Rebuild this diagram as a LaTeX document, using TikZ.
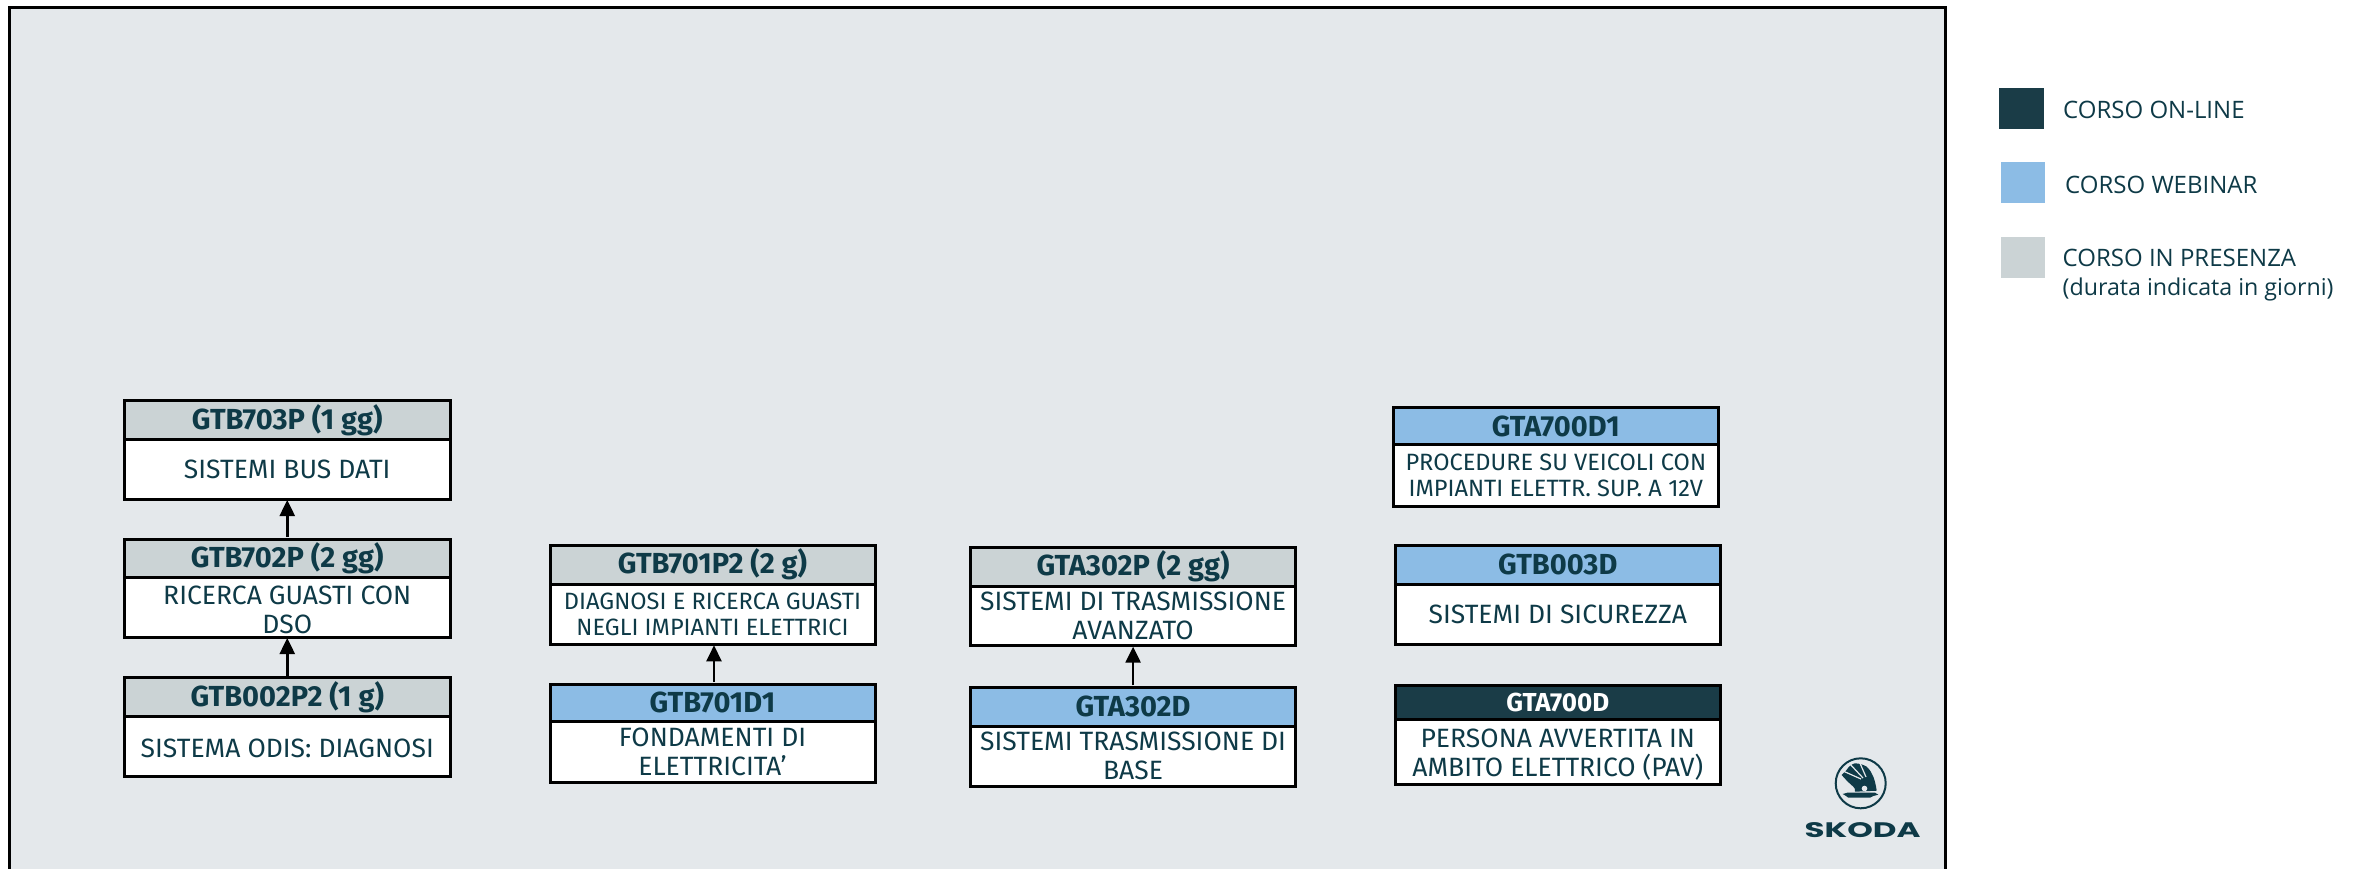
\documentclass[tikz,border=0pt]{standalone}
\usepackage{fontspec}
\usetikzlibrary{arrows.meta}
\setmainfont{Fira Sans}
\newfontfamily\boxfont{Fira Sans}
\newfontfamily\legfont{Open Sans}
\newfontfamily\logofont[FakeStretch=1.55]{Poppins}
\definecolor{panelc}{HTML}{E4E8EB}
\definecolor{grayc}{HTML}{CBD3D5}
\definecolor{bluec}{HTML}{8CBCE5}
\definecolor{darkc}{HTML}{1A3C47}
\definecolor{textc}{HTML}{0E3A47}
\newcommand{\lowerstrut}{\rule{0pt}{24pt}}
\tikzset{
  boxpart/.style={draw=black,line width=3pt,inner sep=0pt,outer sep=0pt,align=center,text=textc},
  titlept/.style={boxpart,font=\boxfont\fontsize{29}{30}\selectfont\bfseries},
  bodypt/.style={boxpart,fill=white,font=\boxfont\fontsize{26.5}{29}\selectfont},
  smallbody/.style={boxpart,fill=white,font=\boxfont\fontsize{23.6}{25.7}\selectfont},
  flowarrow/.style={draw=black,line width=2.5pt,-{Triangle[length=16pt,width=15pt]},shorten >=1pt,shorten <=2pt},
  legswatch/.style={inner sep=0pt,outer sep=0pt},
  legtext/.style={anchor=base west,inner sep=0pt,text=textc,align=left,font=\legfont\fontsize{24}{29}\selectfont}
}
% #1 name #2 left #3 right #4 top #5 divider #6 bottom #7 fill #8 title #9 body style+text
\newcommand{\coursebox}[9]{%
  \node[titlept,fill=#7,minimum width=#3pt-#2pt,minimum height=#5pt-#4pt,anchor=north west] (#1t) at (#2,#4) {#8};
  \node[bodypt,minimum width=#3pt-#2pt,minimum height=#6pt-#5pt,anchor=north west,#9;
}
\begin{document}
\begin{tikzpicture}[x=1pt,y=-1pt]
\useasboundingbox (0,0) rectangle (2361,869);
\fill[white] (0,0) rectangle (2361,869);
\draw[draw=black,fill=panelc,line width=3pt] (9.7,7.2) rectangle (1945,880);

\coursebox{a3}{124.5}{450}{400.7}{439.5}{499}{grayc}{GTB703P (1 gg)}{] (a3b) at (124.5,439.5) {SISTEMI BUS DATI}}
\coursebox{a2}{124.5}{450}{539}{577}{637}{grayc}{GTB702P (2 gg)}{] (a2b) at (124.5,577) {\lowerstrut RICERCA GUASTI CON\\DSO}}
\coursebox{a1}{124.5}{450}{677.7}{716}{776}{grayc}{GTB002P2 (1 g)}{] (a1b) at (124.5,716) {\lowerstrut SISTEMA ODIS: DIAGNOSI}}

\coursebox{b2}{550}{875}{545.3}{584}{644.3}{grayc}{GTB701P2 (2 g)}{,smallbody] (b2b) at (550,584) {DIAGNOSI E RICERCA GUASTI\\NEGLI IMPIANTI ELETTRICI}}
\coursebox{b1}{550}{875}{684}{721.3}{782.7}{bluec}{GTB701D1}{] (b1b) at (550,721.3) {FONDAMENTI DI\\ELETTRICITA’}}

\coursebox{c2}{970.6}{1295.6}{547}{586}{645.7}{grayc}{GTA302P (2 gg)}{] (c2b) at (970.6,586) {SISTEMI DI TRASMISSIONE\\AVANZATO}}
\coursebox{c1}{970.6}{1295.6}{687.3}{726}{786}{bluec}{GTA302D}{] (c1b) at (970.6,726) {SISTEMI TRASMISSIONE DI\\BASE}}

\coursebox{d3}{1393}{1718.6}{407.3}{444.7}{506}{bluec}{GTA700D1}{,smallbody] (d3b) at (1393,444.7) {PROCEDURE SU VEICOLI CON\\IMPIANTI ELETTR. SUP. A 12V}}
\coursebox{d2}{1395}{1720.6}{545.3}{584}{644.3}{bluec}{GTB003D}{] (d2b) at (1395,584) {SISTEMI DI SICUREZZA}}
\coursebox{d1}{1395}{1720.6}{685.3}{719.3}{784}{darkc}{\textcolor{white}{\fontsize{26}{27}\selectfont GTA700D}}{] (d1b) at (1395,719.3) {\lowerstrut PERSONA AVVERTITA IN\\AMBITO ELETTRICO (PAV)}}

\draw[flowarrow] (a2t.north) -- (a3b.south);
\draw[flowarrow] (a1t.north) -- (a2b.south);
\draw[flowarrow] ([xshift=1.5pt]b1t.north) -- ([xshift=1.5pt]b2b.south);
\draw[flowarrow] (c1t.north) -- (c2b.south);

% legend
\node[legswatch,fill=darkc,minimum width=45pt,minimum height=41pt,anchor=north west] (s1) at (1999,88) {};
\node[legswatch,fill=bluec,minimum width=44pt,minimum height=41pt,anchor=north west] (s2) at (2001,162) {};
\node[legswatch,fill=grayc,minimum width=44pt,minimum height=41pt,anchor=north west] (s3) at (2001,237) {};
\node[legtext] (l1) at (2063,118.7) {CORSO ON-LINE};
\node[legtext] (l2) at (2065,194) {CORSO WEBINAR};
\node[legtext] (l3) at (2062.5,295) {CORSO IN PRESENZA\\{\fontsize{23.2}{29}\selectfont (durata indicata in giorni)}};

% logo
\draw[draw=textc,line width=2pt] (1860.7,783.3) circle (25);
\fill[textc] (1841.7,775) -- (1846,770.7) .. controls (1849,766) and (1852,764) .. (1855,763.3)
  .. controls (1860,763.5) and (1864,765) .. (1866.7,766.7)
  .. controls (1870,770) and (1872,773) .. (1873.3,776.7)
  .. controls (1875,781) and (1876,786) .. (1876.7,790.7) -- (1855,791.7)
  .. controls (1855,789) and (1855,788) .. (1853.3,786.7)
  .. controls (1849,783) and (1845,779) .. (1841.7,775) -- cycle;
\draw[panelc,line width=1.2pt] (1861,779) -- (1843,771);
\draw[panelc,line width=1.2pt] (1863,778) -- (1849,763);
\draw[panelc,line width=1.2pt] (1866,777) -- (1859,761);
\fill[textc] (1842.7,794) -- (1847.3,792.7) -- (1875,792.7) -- (1878.3,794.7) -- (1873.3,796) -- (1870,797.7) -- (1848.3,797.7) -- (1846,796) -- cycle;
\fill[panelc] (1864.5,788.5) circle (2.8);
\node[inner sep=0pt,text=textc,font=\logofont\fontsize{21}{21}\selectfont\bfseries,anchor=base] (logo) at (1862.5,837) {SKODA};
\end{tikzpicture}
\end{document}
